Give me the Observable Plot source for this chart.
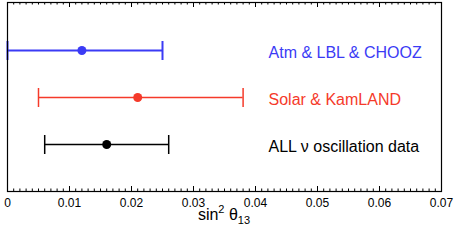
<!DOCTYPE html>
<html><head><meta charset="utf-8">
<script src="https://cdn.jsdelivr.net/npm/d3@7"></script>
<script src="https://cdn.jsdelivr.net/npm/@observablehq/plot@0.6"></script>
<style>body{margin:0;background:#fff} svg{display:block}</style>
</head><body><div id="chart"></div>
<script>
// ---- data ----
const datasets = ["Atm & LBL & CHOOZ", "Solar & KamLAND", "ALL ν oscillation data"];
const best = [0.012, 0.021, 0.016];
const low = [0.0, 0.005, 0.006];
const high = [0.025, 0.038, 0.026];
const colors = ["#3b3bf5", "#f53a2a", "#000000"];
const lineWidths = [2, 1.5, 1.5];
const majorTicks = [0, 0.01, 0.02, 0.03, 0.04, 0.05, 0.06, 0.07];
const tickLabels = ["0", "0.01", "0.02", "0.03", "0.04", "0.05", "0.06", "0.07"];
const minorTicks = d3.range(0, 71).filter(i => i % 10).map(i => i / 1000);
const labelX = 0.0421;

const rows = datasets.map((name, i) => ({name, best: best[i], low: low[i], high: high[i], i}));
const tickRows = majorTicks.map((v, i) => ({v, label: tickLabels[i]}));

const W = 460, H = 246, mt = 2, mb = 55, ml = 7, mr = 19, ih = H - mt - mb;
const font = "'Liberation Sans', Arial, Helvetica, sans-serif";

// vertical bar symbol for error-bar caps
const capSymbol = {
  draw(context, size) {
    const r = Math.sqrt(size / Math.PI);
    context.moveTo(0, -r);
    context.lineTo(0, r);
  }
};

const rowMarks = rows.flatMap(r => [
  Plot.ruleY([r], {y: "name", x1: "low", x2: "high", stroke: colors[r.i], strokeWidth: lineWidths[r.i], clip: true}),
  Plot.dot([r], {x: "low", y: "name", symbol: capSymbol, r: 9.5, fill: "none", stroke: colors[r.i], strokeWidth: lineWidths[r.i]}),
  Plot.dot([r], {x: "high", y: "name", symbol: capSymbol, r: 9.5, fill: "none", stroke: colors[r.i], strokeWidth: lineWidths[r.i]}),
  Plot.dot([r], {x: "best", y: "name", fill: colors[r.i], r: 4.5}),
  Plot.text([r], {x: () => labelX, y: "name", text: "name", fill: colors[r.i], textAnchor: "start", fontSize: "16px", dy: 2})
]);

const plot = Plot.plot({
  width: W, height: H, marginTop: mt, marginBottom: mb, marginLeft: ml, marginRight: mr,
  style: {fontFamily: font, fontSize: "12px", background: "#fff", overflow: "visible"},
  x: {domain: [0, 0.07], axis: null},
  y: {type: "point", domain: datasets, padding: 1, axis: null},
  marks: [
    Plot.ruleX(majorTicks, {x: d => d, insetBottom: ih - 5, stroke: "#000"}),
    Plot.ruleX(majorTicks, {x: d => d, insetTop: ih - 5, stroke: "#000"}),
    Plot.ruleX(minorTicks, {x: d => d, insetBottom: ih - 2.5, stroke: "#000"}),
    Plot.ruleX(minorTicks, {x: d => d, insetTop: ih - 2.5, stroke: "#000"}),
    Plot.text(tickRows, {x: "v", text: "label", frameAnchor: "bottom", lineAnchor: "top", dy: 7, fontSize: "12px", fill: "#000"}),
    ...rowMarks,
    Plot.frame({stroke: "#000", strokeWidth: 1.2})
  ]
});

// axis title with superscript / subscript
const xs = plot.scale("x");
const cx = xs.apply(0.035);
const t = d3.select(plot).append("text")
  .attr("x", cx).attr("y", 220)
  .attr("text-anchor", "middle")
  .attr("font-family", font).attr("font-size", 16).attr("fill", "#000");
t.append("tspan").text("sin");
t.append("tspan").attr("font-size", 11).attr("dy", -7).text("2");
t.append("tspan").attr("dy", 7).text(" θ");
t.append("tspan").attr("font-size", 11).attr("dy", 4).text("13");

document.getElementById("chart").appendChild(plot);
</script>
</body></html>
